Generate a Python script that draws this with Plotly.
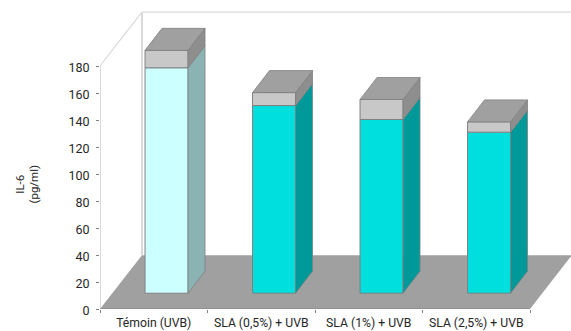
import plotly.graph_objects as go

categories = ["Témoin (UVB)", "SLA (0,5%) + UVB", "SLA (1%) + UVB", "SLA (2,5%) + UVB"]
main_values = [167, 139, 128.7, 119.3]
cap_values = [12.9, 9.6, 14.8, 7.6]
y_ticks = [0, 20, 40, 60, 80, 100, 120, 140, 160, 180]

# Pseudo-3D projection, in axis units
BASE = 11.7
BAR_W = 0.4
OFF = 0.119
DX, DY = 0.158, 16.3
FLOOR_DX, FLOOR_DY = 0.39, 39.9
N = len(categories)

front = ["#CCFFFF", "#00DEDE", "#00DEDE", "#00DEDE"]
side = ["#8BB3B3", "#009999", "#009999", "#009999"]
CAP_FRONT, CAP_SIDE, CAP_TOP = "#C8C8C8", "#8E8E8E", "#A0A0A0"
EDGE = "#808080"
WALL = "#D9D9D9"
TEXT = "#262626"

fig = go.Figure()
xc = [i + 0.5 + OFF for i in range(N)]
tops = [BASE + m for m in main_values]

fig.add_bar(x=xc, y=main_values, base=[BASE] * N, width=BAR_W,
            marker=dict(color=front, line=dict(color=EDGE, width=1)), hoverinfo="skip")
fig.add_bar(x=xc, y=cap_values, base=tops, width=BAR_W,
            marker=dict(color=CAP_FRONT, line=dict(color=EDGE, width=1)), hoverinfo="skip")


def poly(xs, ys, color):
    fig.add_scatter(x=xs + xs[:1], y=ys + ys[:1], mode="lines", fill="toself",
                    fillcolor=color, line=dict(color=EDGE, width=0.8), hoverinfo="skip")


for i in range(N):
    r = xc[i] + BAR_W / 2
    l = xc[i] - BAR_W / 2
    t1 = tops[i]
    t2 = t1 + cap_values[i]
    poly([r, r + DX, r + DX, r], [BASE, BASE + DY, t1 + DY, t1], side[i])
    poly([r, r + DX, r + DX, r], [t1, t1 + DY, t2 + DY, t2], CAP_SIDE)
    poly([l, r, r + DX, l + DX], [t2, t2, t2 + DY, t2 + DY], CAP_TOP)

# Left wall / axis line and bottom axis line
fig.add_scatter(x=[0, 0], y=[0, y_ticks[-1]], mode="lines",
                line=dict(color=WALL, width=2), hoverinfo="skip")
fig.add_scatter(x=[0, N], y=[0, 0], mode="lines",
                line=dict(color=EDGE, width=1), hoverinfo="skip")

top_wall = y_ticks[-1] + FLOOR_DY
shapes = [
    dict(type="path", layer="below", xref="x", yref="y", fillcolor="#A0A0A0", line=dict(width=0),
         path=f"M0,0 L{N},0 L{N + FLOOR_DX},{FLOOR_DY} L{FLOOR_DX},{FLOOR_DY} Z"),
    dict(type="path", layer="below", xref="x", yref="y", line=dict(color=WALL, width=1.2),
         path=f"M0,{y_ticks[-1]} L{FLOOR_DX},{top_wall} L{N + FLOOR_DX},{top_wall}"),
    dict(type="line", layer="below", xref="x", yref="y", line=dict(color=WALL, width=2),
         x0=FLOOR_DX, x1=FLOOR_DX, y0=FLOOR_DY, y1=top_wall),
]

PLOT_H = 309
fig.update_layout(
    width=571, height=331, autosize=False,
    margin=dict(l=100, r=0, t=0, b=331 - PLOT_H, autoexpand=False),
    plot_bgcolor="white", paper_bgcolor="white",
    showlegend=False, barmode="overlay", shapes=shapes,
    font=dict(family="Roboto", color=TEXT, size=12),
    annotations=[dict(text="IL-6<br>(pg/ml)", xref="paper", yref="paper", showarrow=False,
                      x=(26.5 - 100) / 471, y=1 - 185 / PLOT_H, xanchor="center", yanchor="middle",
                      textangle=-90, font=dict(size=11.5, color=TEXT))],
)
fig.update_xaxes(
    range=[0, 471 / 107.5], showgrid=False, zeroline=False, showline=False,
    tickmode="array", tickvals=[i + 0.5 for i in range(N)], ticktext=categories,
    ticks="", tickfont=dict(size=12.2), tickangle=0, automargin=False, ticklabelstandoff=5,
    minor=dict(tickmode="array", tickvals=list(range(N + 1)), ticks="outside",
               ticklen=3, tickcolor=EDGE, tickwidth=1, showgrid=False),
)
fig.update_yaxes(
    range=[0, PLOT_H / 1.35], showgrid=False, zeroline=False, showline=False,
    tickmode="array", tickvals=y_ticks, ticks="outside", ticklen=3,
    tickcolor=EDGE, tickwidth=1, tickfont=dict(size=12.5), automargin=False,
    ticklabelstandoff=4, ticklabelshift=2,
)
fig.write_html("out.html", config=dict(displayModeBar=False),
               post_script="document.body.style.margin='0';document.documentElement.style.overflow='hidden';")
